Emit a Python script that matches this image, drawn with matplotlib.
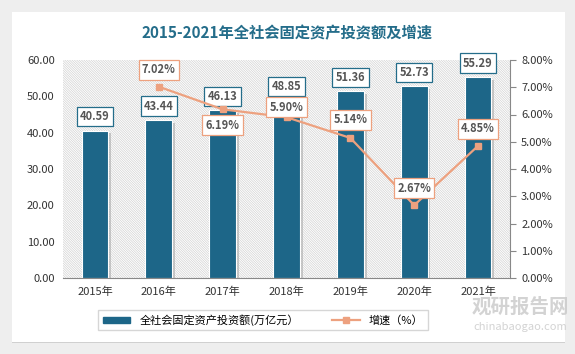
import matplotlib; matplotlib.use('Agg')
import matplotlib.pyplot as plt
import matplotlib.patheffects as pe
from matplotlib.patches import Rectangle
from matplotlib.lines import Line2D
import numpy as np

plt.rcParams['font.family'] = ['Noto Sans CJK SC', 'DejaVu Sans']
plt.rcParams['hatch.linewidth'] = 0.5

years = ['2015年', '2016年', '2017年', '2018年', '2019年', '2020年', '2021年']
invest = [40.59, 43.44, 46.13, 48.85, 51.36, 52.73, 55.29]
growth = [None, 7.02, 6.19, 5.90, 5.14, 2.67, 4.85]
# label offset in px (positive = above)
growth_off = [0, 17, -16, 10, 18, 17, 17]

BAR = '#1d6688'
LINE = '#eda17f'
TEAL = '#246d8a'
GRAY = '#555555'

fig = plt.figure(figsize=(5.75, 3.54), dpi=100)
fig.patch.set_facecolor('#eeeeee')
card = Rectangle((12/575, 12/354), 553/575, 330/354, transform=fig.transFigure,
                 facecolor='white', edgecolor='none', zorder=-10,
                 path_effects=[pe.SimplePatchShadow(offset=(0, -1), shadow_rgbFace='#d0d0d0', alpha=1), pe.Normal()])
fig.patches.append(card)

fig.text(0.5, 1 - 33/354, '2015-2021年全社会固定资产投资额及增速', ha='center', va='center',
         fontsize=11, fontweight='bold', color=TEAL)

ax = fig.add_axes([63/575, 1 - 278/354, 447/575, 218/354])
ax.patch.set_visible(False)
x = np.arange(len(years))
ax.set_xlim(-0.5, len(years) - 0.5)
ax.set_ylim(0, 60)
ax.add_patch(Rectangle((0, 0), 1, 1, transform=ax.transAxes, facecolor='white',
                       edgecolor='#d2d2d2', hatch='\\' * 14, lw=0, zorder=0))

ax.bar(x, invest, width=0.42, color=BAR, edgecolor='white', lw=0.8, zorder=2,
       path_effects=[pe.SimplePatchShadow(offset=(2, -2), shadow_rgbFace='#aaaaaa', alpha=0.6), pe.Normal()])
for xi, v in zip(x, invest):
    ax.annotate(f'{v:.2f}', (xi, v), xytext=(0, 14), textcoords='offset pixels',
                ha='center', va='center', fontsize=8, fontweight='bold', color=GRAY, zorder=5,
                bbox=dict(boxstyle='square,pad=0.3', fc='white', ec=TEAL, lw=0.9))

ax.set_yticks(np.arange(0, 61, 10))
ax.set_yticklabels([f'{v:.2f}' for v in np.arange(0, 61, 10)], fontsize=8, color='#333333')
ax.set_xticks(x)
ax.set_xticklabels(years, fontsize=8, color='#333333')
ax.tick_params(axis='both', length=0, pad=6)
for s in ['top', 'left', 'right']:
    ax.spines[s].set_visible(False)
ax.spines['bottom'].set_color('#888888')

ax2 = ax.twinx()
ax2.patch.set_visible(False)
ax2.set_ylim(0, 8)
gx = x[1:]
gy = growth[1:]
ax2.plot(gx, gy, color=LINE, lw=1.6, marker='s', ms=5, mfc=LINE, mec=LINE, zorder=3)
for xi, v, off in zip(gx, gy, growth_off[1:]):
    ax2.annotate(f'{v:.2f}%', (xi, v), xytext=(0, off), textcoords='offset pixels',
                 ha='center', va='center', fontsize=8, fontweight='bold', color=GRAY, zorder=5,
                 bbox=dict(boxstyle='square,pad=0.3', fc='white', ec=LINE, lw=0.9))
ax2.set_yticks(np.arange(0, 9, 1))
ax2.set_yticklabels([f'{v:.2f}%' for v in np.arange(0, 9, 1)], fontsize=8, color='#333333')
ax2.tick_params(axis='y', length=4, color='#888888', pad=4)
for s in ['top', 'left', 'bottom']:
    ax2.spines[s].set_visible(False)
ax2.spines['right'].set_color('#888888')

handles = [Rectangle((0, 0), 1, 1, color=BAR),
           Line2D([0], [0], color=LINE, lw=1.6, marker='s', ms=5)]
fig.legend(handles, ['全社会固定资产投资额(万亿元）', '增速（%）'], loc='center',
           bbox_to_anchor=(263/575, 1 - 320/354), ncol=2, fontsize=8, frameon=True,
           fancybox=False, edgecolor='#cccccc', handlelength=2.5, handleheight=0.5,
           columnspacing=3, borderpad=0.4)

fig.text(520/575, 1 - 307/354, '观研报告网', ha='center', va='center', fontsize=14,
         fontweight='bold', color='#c8c8c8', alpha=0.8)
fig.text(520/575, 1 - 327/354, 'chinabaogao.com', ha='center', va='center', fontsize=8,
         color='#c8c8c8', alpha=0.8)

fig.savefig('out.png', dpi=100)
